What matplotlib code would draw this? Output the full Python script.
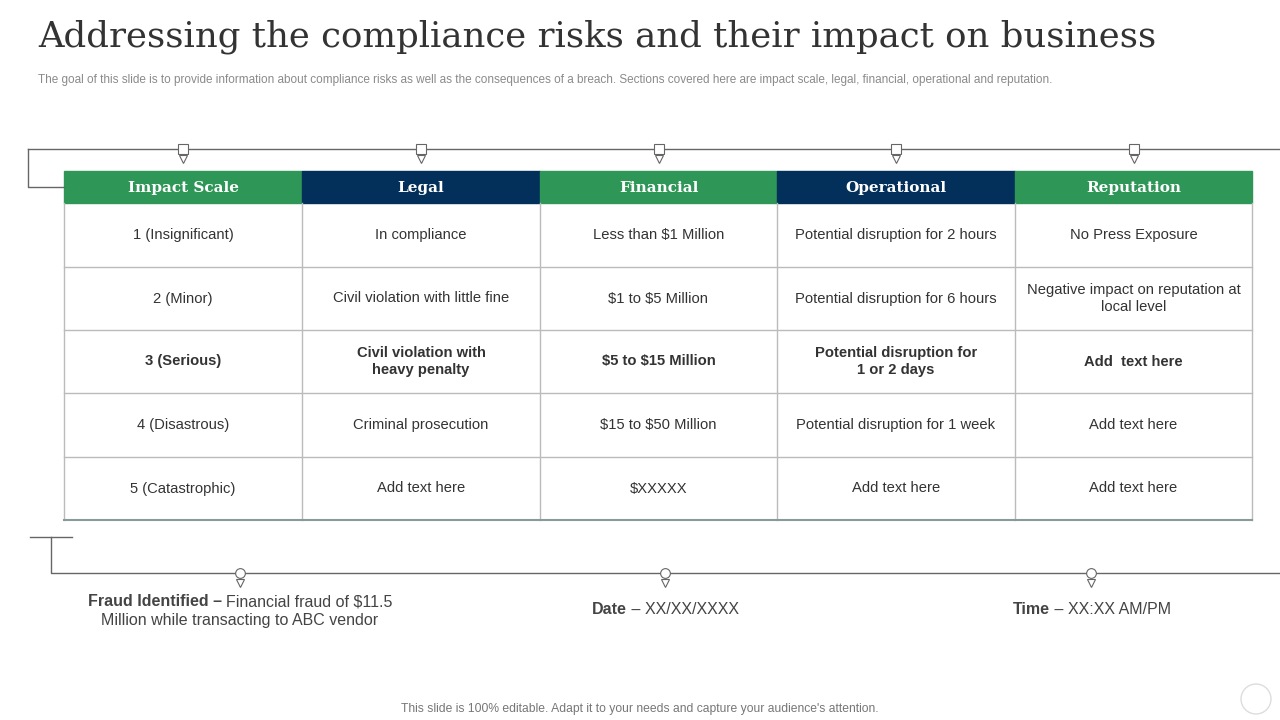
import matplotlib.pyplot as plt
from matplotlib.patches import Rectangle

plt.rcParams["font.family"] = "Liberation Sans"

# table content
headers = ["Impact Scale", "Legal", "Financial", "Operational", "Reputation"]
header_colors = ["#2e9657", "#03305a", "#2e9657", "#03305a", "#2e9657"]
rows = [
    ["1 (Insignificant)", "In compliance", "Less than \\$1 Million", "Potential disruption for 2 hours", "No Press Exposure"],
    ["2 (Minor)", "Civil violation with little fine", "\\$1 to \\$5 Million", "Potential disruption for 6 hours", "Negative impact on reputation at\nlocal level"],
    ["3 (Serious)", "Civil violation with\nheavy penalty", "\\$5 to \\$15 Million", "Potential disruption for\n1 or 2 days", "Add  text here"],
    ["4 (Disastrous)", "Criminal prosecution", "\\$15 to \\$50 Million", "Potential disruption for 1 week", "Add text here"],
    ["5 (Catastrophic)", "Add text here", "\\$XXXXX", "Add text here", "Add text here"],
]
bold_row = 2

fig = plt.figure(figsize=(12.8, 7.2), dpi=100)
ax = fig.add_axes([0, 0, 1, 1])
ax.set_xlim(0, 1280)
ax.set_ylim(720, 0)
ax.axis('off')

ax.text(38, 37, "Addressing the compliance risks and their impact on business",
        fontsize=25.6, family="DejaVu Serif", color="#333333", va="center")
ax.text(38, 80, "The goal of this slide is to provide information about compliance risks as well as the consequences of a breach. "
        "Sections covered here are impact scale, legal, financial, operational and reputation.",
        fontsize=8.5, color="#8a8a8a", va="center")

xs = [64, 302, 540, 777, 1015, 1252]
ys = [171, 203, 267, 330, 393, 457, 520]
line_c = "#666666"

# top connector
ax.plot([28, 1280], [149, 149], color=line_c, lw=1)
ax.plot([28, 28, 64], [149, 187, 187], color=line_c, lw=1)
for i in range(5):
    cx = (xs[i] + xs[i + 1]) / 2
    ax.plot(cx, 149, marker="s", ms=7, mfc="white", mec=line_c, mew=0.8)
    ax.plot(cx, 159, marker="v", ms=6, mfc="white", mec=line_c, mew=0.8)

# header
for i, h in enumerate(headers):
    ax.add_patch(Rectangle((xs[i], ys[0]), xs[i + 1] - xs[i], ys[1] - ys[0], color=header_colors[i]))
    ax.text((xs[i] + xs[i + 1]) / 2, (ys[0] + ys[1]) / 2 + 1, h, color="white", fontsize=11,
            family="DejaVu Serif", weight="bold", ha="center", va="center")

# body
for r, row in enumerate(rows):
    for c, val in enumerate(row):
        ax.text((xs[c] + xs[c + 1]) / 2, (ys[r + 1] + ys[r + 2]) / 2, val, fontsize=10.6,
                color="#333333", ha="center", va="center", linespacing=1.3,
                weight="bold" if r == bold_row else "normal")
for y in ys[2:-1]:
    ax.plot([xs[0], xs[-1]], [y, y], color="#bbbbbb", lw=1)
for x in xs:
    ax.plot([x, x], [ys[1], ys[-1]], color="#bbbbbb", lw=1)
ax.plot([xs[0], xs[-1]], [ys[-1], ys[-1]], color="#8a9a9a", lw=1.5)

# bottom timeline
ax.plot([30, 72], [537, 537], color=line_c, lw=1)
ax.plot([51, 51, 1280], [537, 573, 573], color=line_c, lw=1)
for cx in [240, 665, 1091]:
    ax.plot(cx, 573, marker="o", ms=7, mfc="white", mec=line_c, mew=0.8)
    ax.plot(cx, 583, marker="v", ms=6, mfc="white", mec=line_c, mew=0.8)

tc = "#444444"
ax.text(88, 602, "Fraud Identified \u2013", fontsize=11.5, weight="bold", color=tc, va="center")
ax.text(226, 602, "Financial fraud of \\$11.5", fontsize=11.5, color=tc, va="center")
ax.text(240, 621, "Million while transacting to ABC vendor", fontsize=11.5, color=tc, ha="center", va="center")
ax.text(627, 610, "Date", fontsize=11.5, weight="bold", color=tc, ha="right", va="center")
ax.text(627, 610, " \u2013 XX/XX/XXXX", fontsize=11.5, color=tc, ha="left", va="center")
ax.text(1050, 610, "Time", fontsize=11.5, weight="bold", color=tc, ha="right", va="center")
ax.text(1050, 610, " \u2013 XX:XX AM/PM", fontsize=11.5, color=tc, ha="left", va="center")

ax.text(640, 709, "This slide is 100% editable. Adapt it to your needs and capture your audience's attention.",
        fontsize=8.7, color="#777777", ha="center", va="center")
ax.add_patch(plt.Circle((1256, 699), 15, fill=False, ec="#dddddd", lw=1))

fig.savefig("out.png", dpi=100)
